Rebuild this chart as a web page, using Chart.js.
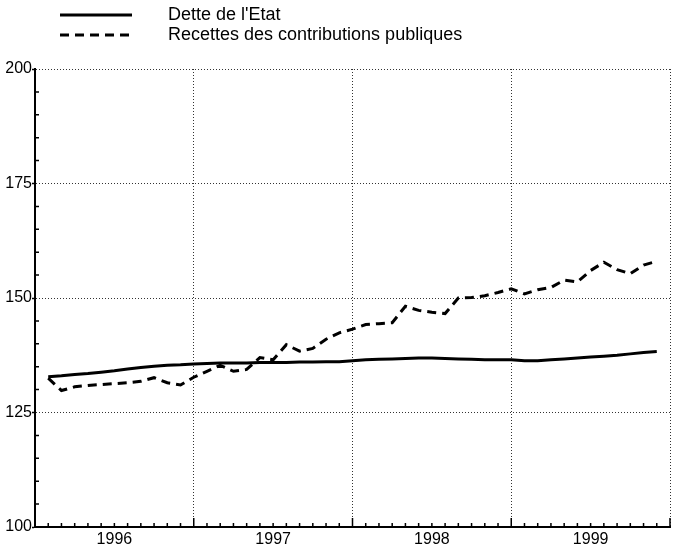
<!DOCTYPE html>
<html>
<head>
<meta charset="utf-8">
<script src="https://cdn.jsdelivr.net/npm/chart.js@4/dist/chart.umd.min.js"></script>
<style>
  html, body { margin: 0; padding: 0; background: #fff; }
  #wrap { width: 679px; height: 547px; }
</style>
</head>
<body>
<div id="wrap"><canvas id="debtChart"></canvas></div>
<script>
// Year labels (centred under each year) and y tick values
const years = ["1996", "1997", "1998", "1999"];
const yTicks = [100, 125, 150, 175, 200];

// Monthly values, Jan 1996 .. Nov 1999 (index 1 = end of January 1996)
const dette = [
    132.8, 133.0, 133.3, 133.5, 133.8, 134.1, 134.5, 134.8, 135.1, 135.3, 135.4, 135.6,
    135.7, 135.8, 135.8, 135.8, 135.9, 135.9, 135.9, 136.0, 136.0, 136.1, 136.1, 136.3,
    136.5, 136.6, 136.7, 136.8, 136.9, 136.9, 136.8, 136.7, 136.6, 136.5, 136.5, 136.5,
    136.3, 136.3, 136.5, 136.7, 136.9, 137.1, 137.3, 137.5, 137.8, 138.1, 138.3
];
const recettes = [
    132.5, 129.8, 130.6, 130.9, 131.1, 131.3, 131.5, 131.8, 132.6, 131.5, 131.0, 132.7,
    134.0, 135.3, 134.0, 134.4, 137.0, 136.5, 139.8, 138.4, 139.0, 141.0, 142.4, 143.2,
    144.2, 144.4, 144.6, 148.2, 147.3, 146.9, 146.6, 150.0, 150.1, 150.5, 151.2, 152.0,
    150.9, 151.8, 152.3, 153.9, 153.5, 156.0, 157.8, 156.2, 155.3, 157.2, 158.0
];

const toPoints = (arr) => arr.map((v, i) => ({ x: i + 1, y: v }));

// Legend drawn in the top padding, using the dataset styles
const topLegend = {
    id: "topLegend",
    afterDraw(chart) {
        const ctx = chart.ctx;
        const rows = [15, 35];
        ctx.save();
        chart.data.datasets.forEach((ds, i) => {
            const y = rows[i];
            ctx.beginPath();
            ctx.lineWidth = 3;
            ctx.strokeStyle = "#000";
            ctx.setLineDash(ds.borderDash || []);
            ctx.moveTo(60, y);
            ctx.lineTo(132, y);
            ctx.stroke();
            ctx.setLineDash([]);
            ctx.fillStyle = "#000";
            ctx.font = "18px 'Liberation Sans', Arial, sans-serif";
            ctx.textBaseline = "middle";
            ctx.textAlign = "left";
            ctx.fillText(ds.label, 168, y);
        });
        ctx.restore();
    }
};

// Small inner tick marks: every 5 on y, every month on x
const minorTicks = {
    id: "minorTicks",
    afterDraw(chart) {
        const ctx = chart.ctx;
        const xs = chart.scales.x;
        const ys = chart.scales.y;
        const area = chart.chartArea;
        ctx.save();
        ctx.strokeStyle = "#000";
        ctx.lineWidth = 1.5;
        ctx.beginPath();
        for (let v = 105; v < 200; v += 5) {
            if (v % 25 === 0) continue;
            const py = ys.getPixelForValue(v);
            ctx.moveTo(area.left, py);
            ctx.lineTo(area.left + 4, py);
        }
        for (let m = 1; m <= 48; m++) {
            const px = xs.getPixelForValue(m);
            const len = m % 12 === 0 ? 9 : 4;
            ctx.moveTo(px, area.bottom);
            ctx.lineTo(px, area.bottom - len);
        }
        ctx.stroke();
        ctx.restore();
    }
};

new Chart(document.getElementById("debtChart"), {
    type: "line",
    data: {
        datasets: [{
            label: "Dette de l'Etat",
            data: toPoints(dette),
            borderColor: "#000",
            borderWidth: 3,
            pointRadius: 0,
            tension: 0
        }, {
            label: "Recettes des contributions publiques",
            data: toPoints(recettes),
            borderColor: "#000",
            borderWidth: 3,
            borderDash: [9, 6],
            pointRadius: 0,
            tension: 0
        }]
    },
    options: {
        responsive: true,
        maintainAspectRatio: false,
        animation: false,
        layout: {
            padding: { top: 69, right: 9, left: 0, bottom: 0 }
        },
        plugins: {
            legend: { display: false },
            tooltip: { enabled: false }
        },
        scales: {
            x: {
                type: "linear",
                min: 0,
                max: 48,
                afterBuildTicks: (scale) => {
                    scale.ticks = [0, 6, 12, 18, 24, 30, 36, 42, 48].map(v => ({ value: v }));
                },
                afterFit: (scale) => { scale.height = 20; },
                ticks: {
                    autoSkip: false,
                    maxRotation: 0,
                    padding: 3,
                    color: "#000",
                    font: { family: "'Liberation Sans', Arial, sans-serif", size: 16 },
                    callback: (v) => (v % 12 === 6 ? years[(v - 6) / 12] : "")
                },
                grid: {
                    color: (c) => (c.tick && c.tick.value % 12 === 0 ? "#333" : "rgba(0,0,0,0)"),
                    lineWidth: 1,
                    drawTicks: false
                },
                border: { display: true, color: "#000", width: 2, dash: [1, 2] }
            },
            y: {
                min: 100,
                max: 200,
                afterBuildTicks: (scale) => {
                    scale.ticks = yTicks.map(v => ({ value: v }));
                },
                afterFit: (scale) => { scale.width = 35; },
                ticks: {
                    padding: 0,
                    color: "#000",
                    font: { family: "'Liberation Sans', Arial, sans-serif", size: 16 }
                },
                grid: {
                    color: "#333",
                    lineWidth: 1,
                    drawTicks: true,
                    tickLength: 3,
                    tickColor: "#000",
                    tickWidth: 1.5,
                    tickBorderDash: []
                },
                border: { display: true, color: "#000", width: 2, dash: [1, 2] }
            }
        }
    },
    plugins: [topLegend, minorTicks]
});
</script>
</body>
</html>
